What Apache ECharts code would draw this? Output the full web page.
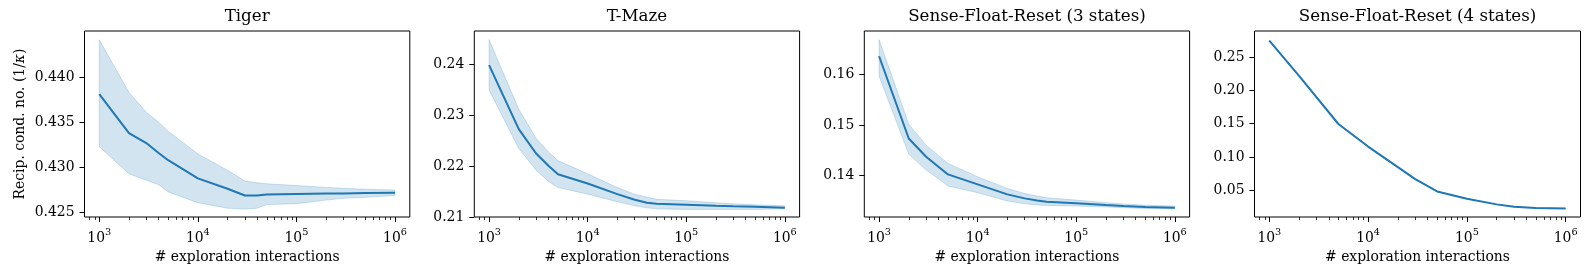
<!DOCTYPE html>
<html>
<head>
<meta charset="utf-8">
<script src="https://cdn.jsdelivr.net/npm/echarts@6/dist/echarts.min.js"></script>
<style>
html,body{margin:0;padding:0;background:#fff;}
#c{width:1589px;height:274px;}
</style>
</head>
<body>
<div id="c"></div>
<script>
// ---------------- data ----------------
const titles = ['Tiger', 'T-Maze', 'Sense-Float-Reset (3 states)', 'Sense-Float-Reset (4 states)'];
const xTickValues = [1e3, 1e4, 1e5, 1e6];
const xTickExponents = ['3', '4', '5', '6'];

const xSteps = [1e3, 2e3, 3e3, 4e3, 5e3, 1e4, 2e4, 3e4, 4e4, 5e4, 1e5, 2e5, 3e5, 5e5, 1e6];

const tigerMean  = [0.4381, 0.4338, 0.4327, 0.4316, 0.4308, 0.4288, 0.42765, 0.4269, 0.42690, 0.42702, 0.42707, 0.42712, 0.42712, 0.42718, 0.42722];
const tigerUpper = [0.4441, 0.4383, 0.4361, 0.4350, 0.4340, 0.4315, 0.4297, 0.4285, 0.4283, 0.4282, 0.4280, 0.4278, 0.4277, 0.4276, 0.4275];
const tigerLower = [0.4323, 0.4293, 0.4286, 0.4281, 0.4273, 0.4261, 0.4255, 0.4254, 0.4255, 0.4259, 0.4260, 0.4264, 0.4266, 0.4267, 0.4269];

const tmazeMean  = [0.2399, 0.2273, 0.2225, 0.2201, 0.2184, 0.2166, 0.2145, 0.2134, 0.2128, 0.2126, 0.2124, 0.2122, 0.2121, 0.2120, 0.2118];
const tmazeUpper = [0.2449, 0.2312, 0.2255, 0.2228, 0.2211, 0.2185, 0.2158, 0.2145, 0.2139, 0.2135, 0.2132, 0.2128, 0.2126, 0.2124, 0.2122];
const tmazeLower = [0.2350, 0.2235, 0.2192, 0.2170, 0.2158, 0.2145, 0.2130, 0.2122, 0.2118, 0.2116, 0.2115, 0.2115, 0.2115, 0.2115, 0.2116];

const sfr3Mean  = [0.16354, 0.14734, 0.14374, 0.14177, 0.14026, 0.13830, 0.13633, 0.13554, 0.13510, 0.13489, 0.13456, 0.13423, 0.13405, 0.13384, 0.13370];
const sfr3Upper = [0.16680, 0.15016, 0.14603, 0.14400, 0.14243, 0.13980, 0.13751, 0.13650, 0.13600, 0.13567, 0.13521, 0.13470, 0.13445, 0.13420, 0.13403];
const sfr3Lower = [0.15961, 0.14426, 0.14111, 0.13940, 0.13797, 0.13666, 0.13502, 0.13450, 0.13425, 0.13416, 0.13403, 0.13385, 0.13370, 0.13355, 0.13350];

const sfr4Steps = [1e3, 2e3, 5e3, 1e4, 2e4, 3e4, 5e4, 1e5, 2e5, 3e5, 5e5, 1e6];
const sfr4Mean  = [0.2744, 0.2215, 0.1495, 0.1157, 0.0848, 0.0669, 0.0485, 0.0376, 0.0291, 0.0256, 0.0236, 0.0231];
const sfr4Upper = [0.2750, 0.2221, 0.1500, 0.1161, 0.0851, 0.0672, 0.0487, 0.0378, 0.0293, 0.0258, 0.0238, 0.0233];
const sfr4Lower = [0.2738, 0.2209, 0.1490, 0.1153, 0.0845, 0.0666, 0.0483, 0.0374, 0.0289, 0.0254, 0.0234, 0.0229];

const yTicks = [
  [0.425, 0.430, 0.435, 0.440],
  [0.21, 0.22, 0.23, 0.24],
  [0.14, 0.15, 0.16],
  [0.05, 0.10, 0.15, 0.20, 0.25]
];
const yDecimals = [3, 2, 2, 2];
const yRanges = [[0.42453, 0.44507], [0.2100, 0.2466], [0.13187, 0.16852], [0.0102, 0.2888]];

// ---------------- layout / style ----------------
const panels = [
  {x: xSteps, mean: tigerMean, upper: tigerUpper, lower: tigerLower},
  {x: xSteps, mean: tmazeMean, upper: tmazeUpper, lower: tmazeLower},
  {x: xSteps, mean: sfr3Mean, upper: sfr3Upper, lower: sfr3Lower},
  {x: sfr4Steps, mean: sfr4Mean, upper: sfr4Upper, lower: sfr4Lower}
];
const gridLefts = [84.5, 474.3, 864.3, 1254.5];
const gridWidths = [325.3, 325.3, 325.3, 326];
const gridTop = 31, gridHeight = 186;
const FONT = 'DejaVu Serif';
const BLUE = '#1f77b4';
const BAND = 'rgba(31,119,180,0.2)';
const BANDEDGE = 'rgba(31,119,180,0.2)';
const xMin = Math.pow(10, 2.85), xMax = Math.pow(10, 6.15);

const minorTicks = [];
for (let k = 2; k <= 5; k++) for (let m = 2; m <= 9; m++) {
  const v = m * Math.pow(10, k);
  if (v > xMin && v < xMax) minorTicks.push(v);
}

const grid = [], xAxis = [], yAxis = [], series = [], title = [];
panels.forEach((p, i) => {
  grid.push({left: gridLefts[i], top: gridTop, width: gridWidths[i], height: gridHeight,
    show: true, borderColor: '#000', borderWidth: 1, backgroundColor: 'transparent', containLabel: false});
  title.push({text: titles[i], left: gridLefts[i] + gridWidths[i] / 2, top: 8.5, textAlign: 'center', padding: 0,
    textStyle: {fontFamily: FONT, fontSize: 16.7, fontWeight: 'normal', color: '#000', lineHeight: 16.7}});
  xAxis.push({
    type: 'log', logBase: 10, gridIndex: i, min: xMin, max: xMax, position: 'bottom',
    axisLine: {show: false},
    splitLine: {show: false},
    axisTick: {show: true, customValues: xTickValues, length: 5, lineStyle: {color: '#000', width: 1}},
    axisLabel: {show: true, customValues: xTickValues, margin: 10,
      formatter: (v) => { const idx = xTickValues.findIndex(t => Math.abs(t - v) / t < 1e-6); return '{b|10}{s|' + xTickExponents[idx] + '}'; },
      rich: {
        b: {fontFamily: FONT, fontSize: 13.9, color: '#000', verticalAlign: 'bottom', lineHeight: 18},
        s: {fontFamily: FONT, fontSize: 9.7, color: '#000', verticalAlign: 'top', lineHeight: 12}
      }},
    name: '# exploration interactions', nameLocation: 'middle', nameGap: 32,
    nameTextStyle: {fontFamily: FONT, fontSize: 13.9, color: '#000', lineHeight: 14}
  });
  xAxis.push({
    type: 'log', logBase: 10, gridIndex: i, min: xMin, max: xMax, position: 'bottom', offset: 0,
    axisLine: {show: false}, splitLine: {show: false},
    axisTick: {show: true, customValues: minorTicks, length: 3, lineStyle: {color: '#000', width: 0.8}},
    axisLabel: {show: false}
  });
  const d = yDecimals[i];
  const ya = {
    type: 'value', gridIndex: i, min: yRanges[i][0], max: yRanges[i][1],
    axisLine: {show: false}, splitLine: {show: false},
    axisTick: {show: true, customValues: yTicks[i], length: 5, lineStyle: {color: '#000', width: 1}},
    axisLabel: {show: true, customValues: yTicks[i], margin: 10, formatter: (v) => v.toFixed(d),
      fontFamily: FONT, fontSize: 13.9, color: '#000'}
  };
  if (i === 0) {
    ya.name = 'Recip. cond. no. (1/{i|κ})';
    ya.nameLocation = 'middle';
    ya.nameGap = 57;
    ya.nameRotate = 90;
    ya.nameTextStyle = {fontFamily: FONT, fontSize: 13.9, color: '#000', lineHeight: 14,
      rich: {i: {fontFamily: FONT, fontSize: 13.9, fontStyle: 'italic', color: '#000'}}};
  }
  yAxis.push(ya);

  const bandData = p.x.map((x, j) => [x, p.lower[j], p.upper[j]]);
  const meanData = p.x.map((x, j) => [x, p.mean[j]]);
  series.push({
    type: 'custom', xAxisIndex: 2 * i, yAxisIndex: i, data: bandData, silent: true, z: 1,
    encode: {x: 0, y: [1, 2]},
    renderItem: (params, api) => {
      if (params.dataIndex !== 0) return null;
      const pts = [];
      for (let j = 0; j < bandData.length; j++) pts.push(api.coord([bandData[j][0], bandData[j][2]]));
      for (let j = bandData.length - 1; j >= 0; j--) pts.push(api.coord([bandData[j][0], bandData[j][1]]));
      return {type: 'polygon', shape: {points: pts},
        style: {fill: BAND, stroke: BANDEDGE, lineWidth: 1}};
    }
  });
  series.push({type: 'line', xAxisIndex: 2 * i, yAxisIndex: i, data: meanData,
    symbol: 'none', silent: true, lineStyle: {color: BLUE, width: 2}, z: 3});
});

const chart = echarts.init(document.getElementById('c'), null, {renderer: 'canvas'});
chart.setOption({
  backgroundColor: '#fff',
  animation: false,
  title, grid, xAxis, yAxis, series
});
</script>
</body>
</html>
